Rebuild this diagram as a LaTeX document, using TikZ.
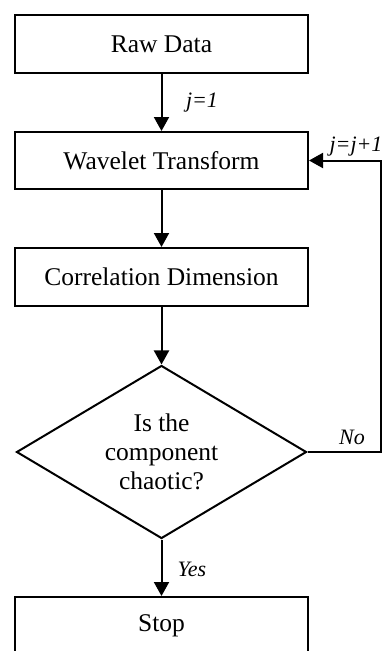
\documentclass[tikz,border=0pt]{standalone}
\usepackage{fontspec}
\setmainfont{Liberation Serif}
\usetikzlibrary{arrows.meta,shapes.geometric}

\tikzset{
  flowbox/.style={draw, line width=2pt, minimum width=293pt, minimum height=58pt,
    inner sep=0pt, font=\fontsize{25.5}{29}\selectfont},
  decision/.style={draw, diamond, line width=2pt, minimum width=290pt, minimum height=173pt,
    aspect=1.676, inner sep=0pt, align=center, font=\fontsize{25.5}{29}\selectfont},
  flow/.style={line width=2pt, -{Triangle[length=14pt,width=15pt]}},
  lbl/.style={font=\fontsize{22}{24}\selectfont\itshape, inner sep=0pt}
}

\begin{document}
\begin{tikzpicture}[x=1pt, y=-1pt]
  \clip (0,0) rectangle (387,651);
  \fill[white] (0,0) rectangle (387,651);

  % process steps
  \node[flowbox] (raw) at (161.5,44) {Raw Data};
  \node[flowbox, minimum height=57pt] (wt) at (161.5,160.5) {Wavelet Transform};
  \node[flowbox] (cd) at (161.5,277) {Correlation Dimension};
  \node[decision] (q) at (161.5,452) {Is the\\component\\chaotic?};
  \node[flowbox] (stop) at (161.5,626) {Stop};

  % loop corner
  \coordinate (c1) at (381,452);
  \coordinate (c2) at (381,160.5);

  % connectors
  \draw[flow] (raw) -- (wt);
  \draw[flow] (wt) -- (cd);
  \draw[flow] (cd) -- (q);
  \draw[flow] (q) -- (stop);
  \draw[flow] (q.east) -- (c1) -- (c2) -- (wt.east);

  % edge labels
  \node[lbl] (l1) at (202,103) {j=1};
  \node[lbl] (l2) at (356,147) {j=j+1};
  \node[lbl] (l3) at (352,437) {No};
  \node[lbl] (l4) at (192,569) {Yes};
\end{tikzpicture}
\end{document}
